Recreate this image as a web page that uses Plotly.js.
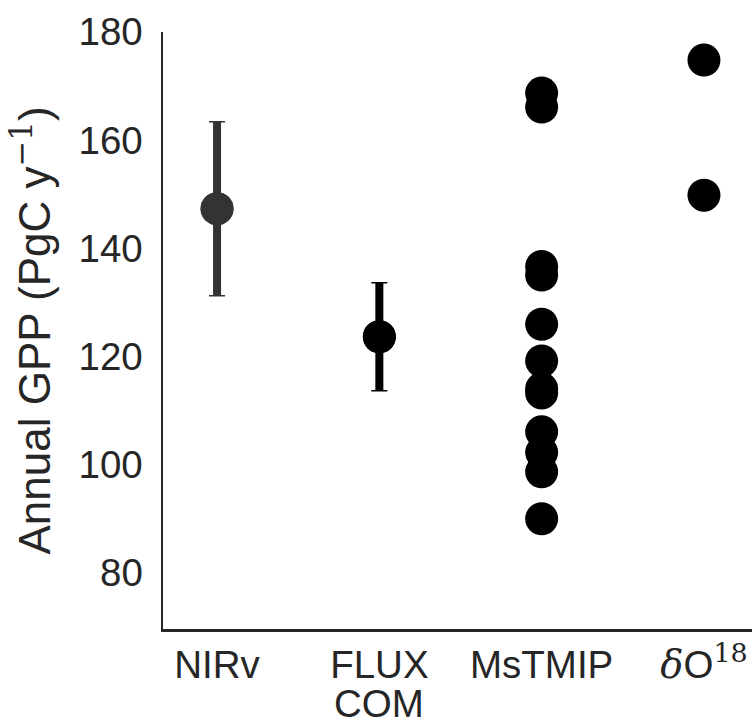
<!DOCTYPE html>
<html>
<head>
<meta charset="utf-8">
<script src="https://cdn.plot.ly/plotly-3.0.1.min.js"></script>
<style>html,body{margin:0;padding:0;background:#fff;}#chart{width:752px;height:724px;}</style>
</head>
<body>
<div id="chart"></div>
<script>
const categories = ['NIRv', 'FLUX', 'MsTMIP', '<span style="font-family:\'DejaVu Serif\'"><i>δ</i></span>O<sup><span style="font-family:\'DejaVu Serif\'">18</span></sup>'];
const categorySecondLine = ['', 'COM', '', ''];
const nirvMean = [147.3];
const nirvErr = [16.1];
const fluxcomMean = [123.6];
const fluxcomErr = [10.0];
const mstmipValues = [168.7, 166.1, 136.6, 135.0, 125.9, 119.1, 114.0, 113.2, 106.0, 102.2, 98.6, 89.9];
const d18oValues = [174.8, 149.8];
const yTicks = [80, 100, 120, 140, 160, 180];

const ink = '#262626';
const font = 'Liberation Sans, Arial, sans-serif';
const fsize = 38.5;

function errTraces(idx, mean, err, color) {
  const x = mean.map(() => idx);
  return [
    {
      x: x, y: mean, type: 'scatter', mode: 'markers',
      marker: {size: 33, color: color},
      error_y: {type: 'data', array: err, visible: true, color: color, thickness: 8, width: 0},
      showlegend: false, hoverinfo: 'y'
    },
    {
      x: x, y: mean, type: 'scatter', mode: 'markers',
      marker: {size: 33, color: color},
      error_y: {type: 'data', array: err, visible: true, color: color, thickness: 1.5, width: 8},
      showlegend: false, hoverinfo: 'skip'
    }
  ];
}

const traces = [
  ...errTraces(0, nirvMean, nirvErr, '#333333'),
  ...errTraces(1, fluxcomMean, fluxcomErr, '#000000'),
  {
    x: mstmipValues.map(() => 2), y: mstmipValues, type: 'scatter', mode: 'markers',
    marker: {size: 33, color: '#000000'}, showlegend: false
  },
  {
    x: d18oValues.map(() => 3), y: d18oValues, type: 'scatter', mode: 'markers',
    marker: {size: 33, color: '#000000'}, showlegend: false
  }
];

const annotations = categorySecondLine.map((t, i) => ({
  x: i, xref: 'x', y: 0, yref: 'paper', yanchor: 'top', yshift: -51,
  text: t, showarrow: false,
  font: {family: font, size: fsize, color: ink}
})).filter(a => a.text);

const layout = {
  width: 752, height: 724,
  margin: {l: 163, r: 0, t: 32, b: 95},
  paper_bgcolor: '#fff', plot_bgcolor: '#fff',
  font: {family: font, color: ink, size: fsize},
  showlegend: false,
  annotations: annotations,
  xaxis: {
    range: [-0.333, 3.296],
    tickvals: [0, 1, 2, 3], ticktext: categories,
    showgrid: false, zeroline: false,
    showline: true, linecolor: ink, linewidth: 2.5,
    ticks: '', ticklabelstandoff: 0,
    tickfont: {family: font, size: fsize, color: ink}
  },
  yaxis: {
    range: [69.5, 180],
    tickvals: yTicks,
    showgrid: false, zeroline: false,
    showline: true, linecolor: ink, linewidth: 2.5,
    ticks: '', ticklabelstandoff: 10,
    tickfont: {family: font, size: fsize, color: ink},
    title: {
      text: 'Annual GPP (PgC y<sup><span style="font-family:\'DejaVu Serif\'">−1</span></sup>)',
      font: {family: font, size: 44, color: ink},
      standoff: 14
    }
  }
};

Plotly.newPlot('chart', traces, layout, {displayModeBar: false, staticPlot: true});
</script>
</body>
</html>
